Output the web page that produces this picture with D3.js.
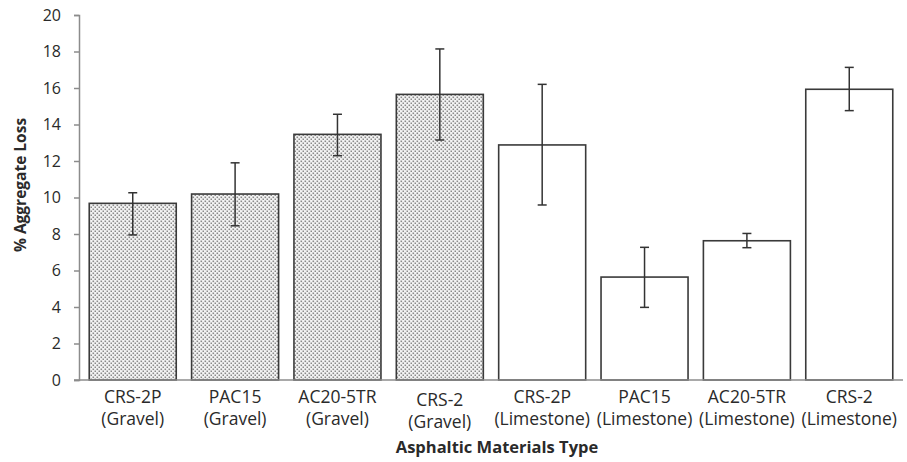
<!DOCTYPE html>
<html>
<head>
<meta charset="utf-8">
<script src="https://cdn.jsdelivr.net/npm/d3@7"></script>
<style>
  html, body { margin: 0; padding: 0; background: #fff; }
  svg { display: block; }
  text { font-family: "Open Sans", "Noto Sans", sans-serif; fill: #2a2a2a; }
</style>
</head>
<body>
<svg id="chart" width="907" height="462"></svg>
<script>
// Material / aggregate combinations
const materials = ["CRS-2P", "PAC15", "AC20-5TR", "CRS-2", "CRS-2P", "PAC15", "AC20-5TR", "CRS-2"];
const aggregates = ["Gravel", "Gravel", "Gravel", "Gravel", "Limestone", "Limestone", "Limestone", "Limestone"];
// Mean % aggregate loss and error bar limits
const meanLoss = [9.68, 10.19, 13.46, 15.65, 12.88, 5.64, 7.63, 15.93];
const errHigh  = [10.26, 11.90, 14.56, 18.14, 16.20, 7.27, 8.03, 17.13];
const errLow   = [7.95, 8.45, 12.29, 13.15, 9.59, 3.98, 7.25, 14.76];
const yTicks = [0, 2, 4, 6, 8, 10, 12, 14, 16, 18, 20];

const svg = d3.select("#chart");
const ids = d3.range(materials.length);

const x = d3.scaleBand().domain(ids).range([79, 903]).paddingInner(0.15).paddingOuter(0.1);
const y = d3.scaleLinear().domain([0, 20]).range([380, 15]);

// Dotted fill for gravel bars
const defs = svg.append("defs");
const pat = defs.append("pattern").attr("id", "dots")
  .attr("patternUnits", "userSpaceOnUse").attr("width", 4).attr("height", 4);
pat.append("rect").attr("width", 4).attr("height", 4).attr("fill", "#f4f4f4");
pat.append("rect").attr("x", 0.5).attr("y", 0.5).attr("width", 1.6).attr("height", 1.6).attr("fill", "#8a8a8a");
pat.append("rect").attr("x", 2.5).attr("y", 2.5).attr("width", 1.6).attr("height", 1.6).attr("fill", "#8a8a8a");

// Y axis
const yAxis = svg.append("g").attr("transform", "translate(79,0)")
  .call(d3.axisLeft(y).tickValues(yTicks).tickSize(5).tickPadding(13));
yAxis.select(".domain").attr("stroke", "#8c8c8c").attr("stroke-width", 1.5);
yAxis.selectAll(".tick line").attr("stroke", "#8c8c8c").attr("stroke-width", 1.5);
yAxis.selectAll(".tick text").style("font-size", "16px").attr("fill", "#333")
  .style("font-family", "'Open Sans', sans-serif");

// Bars
svg.append("g").selectAll("rect").data(ids).join("rect")
  .attr("x", i => x(i))
  .attr("y", i => y(meanLoss[i]))
  .attr("width", x.bandwidth())
  .attr("height", i => y(0) - y(meanLoss[i]))
  .attr("fill", i => aggregates[i] === "Gravel" ? "url(#dots)" : "#fff")
  .attr("stroke", "#3a3a3a").attr("stroke-width", 1.6);

// Baseline
svg.append("line").attr("x1", 74).attr("x2", 903).attr("y1", y(0)).attr("y2", y(0))
  .attr("stroke", "#8c8c8c").attr("stroke-width", 1.5);

// Error bars
const eb = svg.append("g").attr("stroke", "#333").attr("stroke-width", 1.5);
ids.forEach(i => {
  const cx = x(i) + x.bandwidth() / 2;
  eb.append("line").attr("x1", cx).attr("x2", cx).attr("y1", y(errHigh[i])).attr("y2", y(errLow[i]));
  eb.append("line").attr("x1", cx - 4.5).attr("x2", cx + 4.5).attr("y1", y(errHigh[i])).attr("y2", y(errHigh[i]));
  eb.append("line").attr("x1", cx - 4.5).attr("x2", cx + 4.5).attr("y1", y(errLow[i])).attr("y2", y(errLow[i]));
});

// Category labels (two lines each)
const lab = svg.append("g").style("font-size", "17.5px").attr("text-anchor", "middle");
ids.forEach(i => {
  const cx = x(i) + x.bandwidth() / 2;
  const dy = (materials[i] === "CRS-2" && aggregates[i] === "Gravel") ? 3 : 0;
  lab.append("text").attr("x", cx).attr("y", 403 + dy).text(materials[i]);
  lab.append("text").attr("x", cx).attr("y", 425 + dy).text("(" + aggregates[i] + ")");
});

// Axis titles
svg.append("text").attr("x", 497).attr("y", 453).attr("text-anchor", "middle")
  .style("font-size", "16.5px").style("font-weight", "bold").text("Asphaltic Materials Type");
svg.append("text").attr("transform", "translate(26,185) rotate(-90)").attr("text-anchor", "middle")
  .style("font-size", "15.5px").style("font-weight", "bold").text("% Aggregate Loss");
</script>
</body>
</html>
